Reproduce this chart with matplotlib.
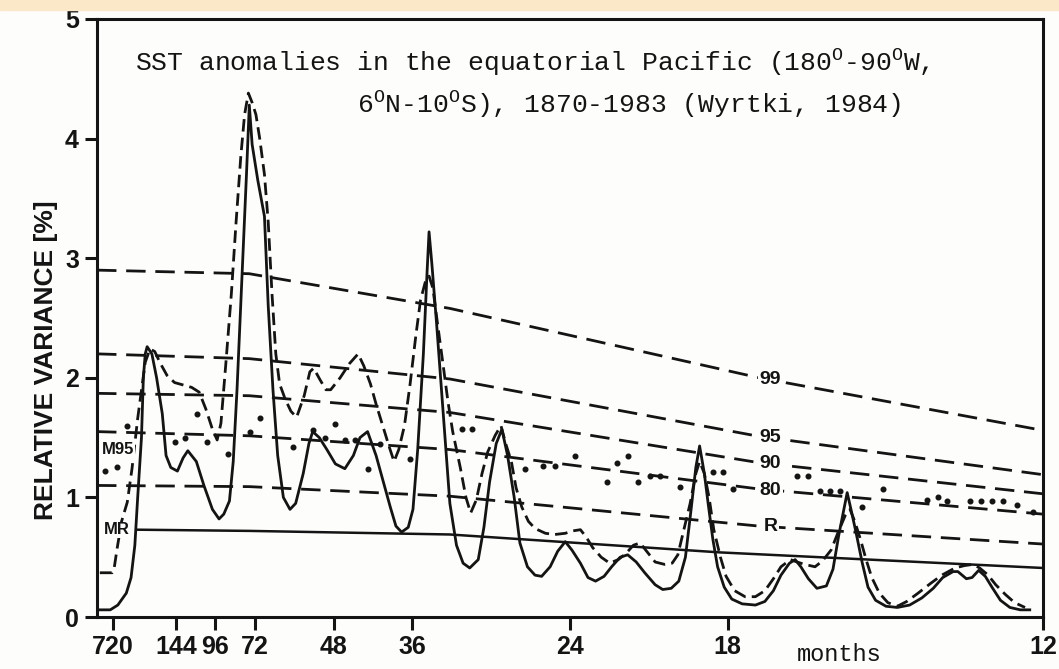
import numpy as np
import matplotlib
matplotlib.use("Agg")
import matplotlib.pyplot as plt
from matplotlib.patches import Rectangle
from matplotlib.transforms import ScaledTranslation

plt.rcParams["mathtext.fontset"] = "custom"
plt.rcParams["mathtext.rm"] = "Liberation Mono"

# frequency in cycles per year (1.0 = 12 months period)
solid_f = [0.003, 0.014, 0.022, 0.031, 0.036, 0.040, 0.043, 0.047, 0.049, 0.051,
           0.053, 0.058, 0.063, 0.069, 0.073, 0.078, 0.085, 0.091, 0.096, 0.105,
           0.113, 0.122, 0.129, 0.134, 0.140, 0.144, 0.148, 0.153, 0.158, 0.161,
           0.164, 0.170, 0.177, 0.181, 0.186, 0.191, 0.197, 0.204, 0.210, 0.218,
           0.224, 0.228, 0.235, 0.243, 0.252, 0.262, 0.271, 0.278, 0.286, 0.295,
           0.302, 0.310, 0.316, 0.322, 0.329, 0.334, 0.339, 0.345, 0.349, 0.351,
           0.354, 0.359, 0.366, 0.373, 0.380, 0.387, 0.394, 0.403, 0.409, 0.415,
           0.422, 0.428, 0.434, 0.441, 0.447, 0.455, 0.463, 0.470, 0.479, 0.487,
           0.495, 0.502, 0.511, 0.519, 0.527, 0.536, 0.544, 0.553, 0.561, 0.570,
           0.579, 0.590, 0.598, 0.607, 0.615, 0.622, 0.628, 0.633, 0.637, 0.642,
           0.646, 0.651, 0.656, 0.663, 0.671, 0.682, 0.696, 0.706, 0.715, 0.723,
           0.732, 0.738, 0.744, 0.752, 0.761, 0.771, 0.778, 0.784, 0.790, 0.793,
           0.797, 0.802, 0.809, 0.815, 0.823, 0.834, 0.846, 0.859, 0.872, 0.884,
           0.894, 0.905, 0.910, 0.919, 0.925, 0.932, 0.939, 0.946, 0.955, 0.965,
           0.976, 0.986]
solid_v = [0.06, 0.06, 0.10, 0.20, 0.33, 0.60, 1.00, 1.50, 2.00, 2.20,
           2.26, 2.20, 2.00, 1.70, 1.35, 1.25, 1.22, 1.33, 1.39, 1.30,
           1.10, 0.90, 0.82, 0.86, 0.97, 1.30, 1.90, 2.80, 3.70, 4.28,
           3.95, 3.65, 3.35, 2.60, 1.90, 1.35, 1.00, 0.90, 0.95, 1.20,
           1.45, 1.55, 1.50, 1.40, 1.28, 1.24, 1.35, 1.50, 1.55, 1.35,
           1.15, 0.92, 0.76, 0.71, 0.75, 0.90, 1.40, 2.20, 2.90, 3.22,
           2.95, 2.45, 1.70, 0.95, 0.60, 0.45, 0.41, 0.48, 0.75, 1.13,
           1.45, 1.57, 1.35, 1.00, 0.62, 0.42, 0.35, 0.34, 0.42, 0.55,
           0.63, 0.56, 0.45, 0.33, 0.30, 0.34, 0.42, 0.50, 0.52, 0.46,
           0.37, 0.27, 0.23, 0.24, 0.30, 0.50, 0.90, 1.25, 1.43, 1.20,
           0.95, 0.65, 0.42, 0.25, 0.15, 0.11, 0.10, 0.13, 0.22, 0.35,
           0.45, 0.48, 0.42, 0.32, 0.24, 0.26, 0.40, 0.68, 0.92, 1.04,
           0.90, 0.72, 0.45, 0.25, 0.14, 0.09, 0.08, 0.10, 0.16, 0.24,
           0.33, 0.38, 0.38, 0.32, 0.33, 0.39, 0.34, 0.25, 0.14, 0.08,
           0.06, 0.06]

dash_f = [0.003, 0.016, 0.018, 0.021, 0.026, 0.032, 0.037, 0.043, 0.051, 0.056,
          0.061, 0.067, 0.074, 0.082, 0.091, 0.100, 0.108, 0.115, 0.122, 0.127,
          0.131, 0.136, 0.142, 0.147, 0.152, 0.156, 0.160, 0.164, 0.168, 0.172,
          0.177, 0.181, 0.185, 0.189, 0.193, 0.199, 0.205, 0.211, 0.219, 0.225,
          0.229, 0.236, 0.242, 0.247, 0.257, 0.267, 0.276, 0.282, 0.289, 0.295,
          0.302, 0.309, 0.314, 0.319, 0.325, 0.331, 0.337, 0.342, 0.347, 0.351,
          0.355, 0.360, 0.366, 0.371, 0.376, 0.384, 0.390, 0.395, 0.401, 0.407,
          0.413, 0.421, 0.427, 0.432, 0.438, 0.443, 0.449, 0.456, 0.463, 0.474,
          0.484, 0.495, 0.503, 0.511, 0.517, 0.524, 0.533, 0.542, 0.551, 0.559,
          0.567, 0.574, 0.581, 0.590, 0.600, 0.608, 0.614, 0.621, 0.627, 0.633,
          0.637, 0.642, 0.647, 0.652, 0.659, 0.665, 0.674, 0.685, 0.696, 0.706,
          0.715, 0.723, 0.733, 0.740, 0.748, 0.759, 0.767, 0.776, 0.783, 0.791,
          0.796, 0.801, 0.807, 0.813, 0.819, 0.827, 0.836, 0.846, 0.856, 0.868,
          0.881, 0.893, 0.907, 0.917, 0.926, 0.933, 0.942, 0.950, 0.960, 0.970,
          0.981]
dash_v = [0.37, 0.37, 0.40, 0.56, 0.80, 0.96, 1.24, 1.66, 2.13, 2.24,
          2.22, 2.12, 2.02, 1.96, 1.94, 1.92, 1.88, 1.74, 1.57, 1.48,
          1.62, 2.10, 2.70, 3.30, 3.85, 4.20, 4.38, 4.30, 4.20, 4.00,
          3.70, 3.30, 2.70, 2.20, 1.95, 1.82, 1.72, 1.67, 1.85, 2.05,
          2.08, 1.98, 1.90, 1.90, 2.00, 2.12, 2.20, 2.10, 1.95, 1.78,
          1.60, 1.42, 1.30, 1.40, 1.60, 1.95, 2.35, 2.65, 2.80, 2.85,
          2.75, 2.45, 2.10, 1.80, 1.55, 1.25, 1.00, 0.87, 0.98, 1.20,
          1.38, 1.52, 1.60, 1.45, 1.30, 1.08, 0.92, 0.80, 0.74, 0.70,
          0.69, 0.70, 0.72, 0.73, 0.67, 0.58, 0.50, 0.45, 0.48, 0.53,
          0.60, 0.62, 0.55, 0.46, 0.44, 0.45, 0.52, 0.75, 0.95, 1.20,
          1.30, 1.20, 1.00, 0.73, 0.50, 0.34, 0.22, 0.17, 0.17, 0.22,
          0.32, 0.42, 0.48, 0.46, 0.44, 0.42, 0.47, 0.56, 0.70, 0.85,
          0.90, 0.80, 0.65, 0.48, 0.33, 0.20, 0.12, 0.09, 0.13, 0.20,
          0.28, 0.35, 0.41, 0.43, 0.44, 0.41, 0.35, 0.27, 0.19, 0.12,
          0.08]

# significance levels
lev_f = [0.0, 0.161, 0.373, 0.70, 1.0]
lev99 = [2.90, 2.87, 2.58, 2.00, 1.56]
lev95 = [2.20, 2.16, 1.99, 1.51, 1.19]
lev90 = [1.87, 1.85, 1.71, 1.29, 1.03]
lev80 = [1.55, 1.515, 1.40, 1.07, 0.86]
lev_r = [1.10, 1.09, 1.01, 0.76, 0.61]
mr_f = [0.043, 0.161, 0.373, 0.659, 1.0]
mr_v = [0.73, 0.72, 0.69, 0.54, 0.41]

m95_f = [0.008, 0.021, 0.032, 0.082, 0.093, 0.106, 0.116, 0.138, 0.162, 0.172,
         0.207, 0.228, 0.241, 0.252, 0.262, 0.273, 0.286, 0.299, 0.331, 0.386,
         0.396, 0.452, 0.471, 0.484, 0.505, 0.539, 0.550, 0.561, 0.572, 0.585,
         0.595, 0.616, 0.651, 0.662, 0.672, 0.740, 0.752, 0.764, 0.775, 0.785,
         0.809, 0.831, 0.877, 0.889, 0.899, 0.923, 0.934, 0.946, 0.958, 0.973,
         0.989]
m95_v = [1.22, 1.25, 1.60, 1.46, 1.50, 1.70, 1.46, 1.36, 1.55, 1.66,
         1.42, 1.56, 1.50, 1.61, 1.48, 1.48, 1.24, 1.45, 1.32, 1.57,
         1.57, 1.24, 1.26, 1.26, 1.35, 1.13, 1.29, 1.35, 1.13, 1.18,
         1.18, 1.09, 1.21, 1.21, 1.07, 1.18, 1.18, 1.05, 1.05, 1.05,
         0.92, 1.07, 0.98, 1.00, 0.97, 0.97, 0.97, 0.97, 0.97, 0.94,
         0.88]

periods = [720, 144, 96, 72, 48, 36, 24, 18, 12]
level_names = ["99", "95", "90", "80", "R"]

ink = "#141414"
paper = "#fdfdfc"

fig = plt.figure(figsize=(10.59, 6.69), dpi=100, facecolor=paper)
fig.patches.append(Rectangle((0, 0.985), 1, 0.015, transform=fig.transFigure,
                             color="#fbe8c8", zorder=0))
ax = fig.add_axes([0.0916, 0.0777, 0.8933, 0.894])
ax.set_facecolor(paper)

ax.plot(solid_f, solid_v, color=ink, lw=2.0, solid_joinstyle="round")
ax.plot(dash_f, dash_v, color=ink, lw=2.0, dashes=(4.5, 2.2))

levels = [lev99, lev95, lev90, lev80, lev_r]
for name, lev in zip(level_names, levels):
    ax.plot(lev_f, lev, color=ink, lw=2.0, dashes=(7, 3.5))
    ax.text(0.712, np.interp(0.712, lev_f, lev), name, ha="center", va="center",
            fontsize=14, fontweight="bold", family="Liberation Sans", color=ink,
            bbox=dict(facecolor=paper, edgecolor="none", pad=1.0))
ax.plot(mr_f, mr_v, color=ink, lw=1.8)
ax.scatter(m95_f, m95_v, s=11, color=ink, zorder=3)

ax.text(0.022, 1.40, "M95", ha="center", va="center", fontsize=12,
        fontweight="bold", family="Liberation Sans", color=ink,
        bbox=dict(facecolor=paper, edgecolor="none", pad=0.5))
ax.text(0.021, 0.73, "MR", ha="center", va="center", fontsize=12,
        fontweight="bold", family="Liberation Sans", color=ink,
        bbox=dict(facecolor=paper, edgecolor="none", pad=0.5))

ax.text(0.040, 0.928, "SST anomalies in the equatorial Pacific "
        "(180$^{\\mathrm{O}}$-90$^{\\mathrm{O}}$W,",
        transform=ax.transAxes, ha="left", va="center", fontsize=19,
        family="Liberation Mono", color=ink)
ax.text(0.275, 0.858, "6$^{\\mathrm{O}}$N-10$^{\\mathrm{O}}$S), 1870-1983 (Wyrtki, 1984)",
        transform=ax.transAxes, ha="left", va="center", fontsize=19,
        family="Liberation Mono", color=ink)

ax.set_xlim(0, 1)
ax.set_ylim(0, 5)
ax.set_xticks([12 / p for p in periods])
ax.set_xticklabels([str(p) for p in periods])
ax.set_yticks(range(6))
for lab in ax.get_xticklabels() + ax.get_yticklabels():
    lab.set_fontweight("bold")
    lab.set_family("Liberation Sans")
    lab.set_fontsize(18)
    lab.set_color(ink)
# nudge the crowded low-frequency labels apart
shifts = {"720": -6, "144": -8, "96": -2, "72": 2}
for lab in ax.get_xticklabels():
    dx = shifts.get(lab.get_text(), 0)
    lab.set_transform(lab.get_transform() + ScaledTranslation(dx / 100, 0, fig.dpi_scale_trans))

ax.tick_params(axis="both", direction="out", length=9, width=2.2, color=ink, pad=4)
for sp in ax.spines.values():
    sp.set_linewidth(2.2)
    sp.set_color(ink)

ax.set_ylabel("RELATIVE VARIANCE [%]", fontsize=19, fontweight="bold",
              family="Liberation Sans", color=ink)
ax.yaxis.set_label_coords(-0.041, 0.43)
ax.text(0.785, -0.062, "months", transform=ax.transAxes, ha="center", va="center",
        fontsize=17, family="Liberation Mono", color=ink)

fig.savefig("out.png", dpi=100, facecolor=fig.get_facecolor())
